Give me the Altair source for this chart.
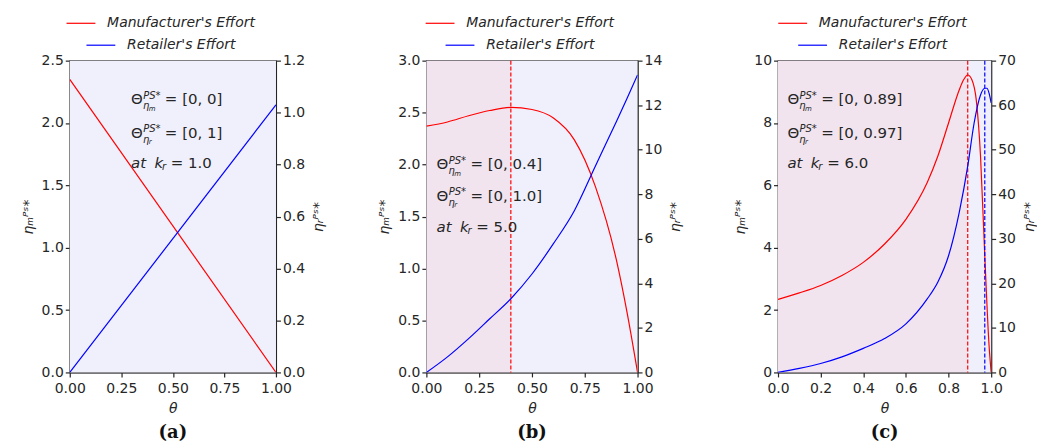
import altair as alt
import pandas as pd

SERIES = ["Manufacturer's Effort", "Retailer's Effort"]
RED = "#ff0000"
BLUE = "#0000ff"
PINK = "#f1e4ef"
LAV = "#f0f0fc"
INK = "#262626"
FONT = "DejaVu Sans"

# ---- panel (a) ----
a_theta_m = [0.0, 1.0]
a_m = [2.35, 0.0]
a_theta_r = [0.0, 1.0]
a_r = [0.0, 1.03]

# ---- panel (b) ----
b_theta_m = [0.0, 0.1, 0.2, 0.3, 0.4, 0.5, 0.6, 0.7, 0.8, 0.9, 0.95, 1.0]
b_m = [2.37, 2.41, 2.47, 2.52, 2.55, 2.53, 2.45, 2.24, 1.79, 1.08, 0.58, 0.0]
b_theta_r = [0.0, 0.1, 0.2, 0.3, 0.4, 0.5, 0.6, 0.7, 0.8, 0.9, 0.95, 1.0]
b_r = [0.0, 0.70, 1.52, 2.41, 3.31, 4.42, 5.76, 7.25, 9.26, 11.27, 12.3, 13.36]

# ---- panel (c) ----
c_theta_m = [0.0, 0.1, 0.2, 0.3, 0.4, 0.5, 0.6, 0.7, 0.75, 0.8, 0.85, 0.87, 0.89,
             0.91, 0.93, 0.95, 0.97, 0.99, 1.0]
c_m = [2.34, 2.55, 2.79, 3.11, 3.53, 4.12, 4.91, 6.09, 6.94, 8.0, 9.06, 9.38, 9.54,
       9.38, 8.74, 6.94, 3.74, 0.87, 0.0]
c_theta_r = [0.0, 0.1, 0.2, 0.3, 0.4, 0.5, 0.6, 0.7, 0.75, 0.8, 0.85, 0.89, 0.92,
             0.95, 0.97, 0.98, 0.99, 1.0]
c_r = [0.0, 0.9, 2.0, 3.5, 5.4, 7.6, 10.9, 16.5, 20.3, 26.2, 35.9, 46.3, 56.0,
       62.3, 63.8, 63.8, 62.7, 60.5]

# annotation texts
a_ann = ["= [0, 0]", "= [0, 1]", "= 1.0"]
b_ann = ["= [0, 0.4]", "= [0, 1.0]", "= 5.0"]
c_ann = ["= [0, 0.89]", "= [0, 0.97]", "= 6.0"]

H = 313
MAIN = 15
SUB = 10
SYM = 210          # legend stroke symbol size (line length = 2*sqrt(SYM))
HALF = SYM ** 0.5 / 2


def text_layer(df, text, dx=0, dy=0, size=MAIN, style="normal", field="t"):
    enc = dict(x=alt.X("theta:Q"), y=alt.Y("v:Q"))
    if text is None:
        enc["text"] = alt.Text(field + ":N")
    else:
        enc["text"] = alt.value(text)
    return alt.Chart(df).mark_text(align="left", baseline="middle", dx=dx, dy=dy,
                                   fontSize=size, fontStyle=style, font=FONT,
                                   color=INK).encode(**enc)


def panel(W, tm, vm, tr, vr, ydm, ytm, ydr, ytr, xticks, xfmt, lfmt, rfmt,
          regions, vlines, ann_x, ann_y, ann_txt, caption):
    xs = alt.Scale(domain=[0, 1], nice=False, zero=False)
    xa = alt.Axis(values=xticks, format=xfmt, title="θ", titleFontStyle="italic",
                  labelFlush=False, labelPadding=5, titlePadding=6)
    ysm = alt.Scale(domain=ydm, nice=False, zero=False)
    ysr = alt.Scale(domain=ydr, nice=False, zero=False)

    dm = pd.DataFrame({"theta": tm, "v": vm, "s": SERIES[0]})
    dr = pd.DataFrame({"theta": tr, "v": vr, "s": SERIES[1]})
    reg = pd.DataFrame(regions, columns=["theta", "theta2", "c"])

    bg = alt.Chart(reg).mark_rect().encode(
        x=alt.X("theta:Q", scale=xs, axis=xa), x2="theta2:Q",
        fill=alt.Fill("c:N", scale=None))

    red = alt.Chart(dm).mark_line(strokeWidth=1.2, interpolate="monotone", clip=True).encode(
        x=alt.X("theta:Q", scale=xs, axis=xa),
        y=alt.Y("v:Q", scale=ysm,
                axis=alt.Axis(orient="left", values=ytm, format=lfmt, title="ηₘᴾˢ*",
                              titlePadding=6)),
        color=alt.Color("s:N", scale=alt.Scale(domain=[SERIES[0]], range=[RED]),
                        legend=alt.Legend(orient="none", legendX=W / 2 - 107.5 + HALF,
                                          legendY=-45.5, title=None)))

    left_layers = [bg, red]
    for xv, col in vlines:
        left_layers.append(
            alt.Chart(pd.DataFrame({"theta": [xv]})).mark_rule(
                color=col, strokeDash=[4, 2], strokeWidth=1.2).encode(x="theta:Q"))

    d12 = pd.DataFrame({"theta": [ann_x, ann_x], "v": ann_y[:2],
                        "t": ann_txt[:2], "sub": ["m", "r"]})
    d3 = pd.DataFrame({"theta": [ann_x], "v": [ann_y[2]], "t": [ann_txt[2]]})
    left_layers += [
        text_layer(d12, "Θ"),
        text_layer(d12, "PS*", dx=12.2, dy=-3.5, size=SUB, style="italic"),
        text_layer(d12, "η", dx=12, dy=7, size=SUB, style="italic"),
        text_layer(d12, None, dx=17.8, dy=9.5, size=7, style="italic", field="sub"),
        text_layer(d12, None, dx=34),
        text_layer(d3, "at", style="italic"),
        text_layer(d3, "k", dx=23.5, style="italic"),
        text_layer(d3, "r", dx=31, dy=4, size=SUB, style="italic"),
        text_layer(d3, None, dx=40),
    ]
    left = alt.layer(*left_layers)

    blue = alt.Chart(dr).mark_line(strokeWidth=1.2, interpolate="monotone", clip=True).encode(
        x=alt.X("theta:Q", scale=xs, axis=xa),
        y=alt.Y("v:Q", scale=ysr,
                axis=alt.Axis(orient="right", values=ytr, format=rfmt, title="ηᵣᴾˢ*",
                              titleAngle=270, titleBaseline="top", titlePadding=7)),
        color=alt.Color("s:N", scale=alt.Scale(domain=[SERIES[1]], range=[BLUE]),
                        legend=alt.Legend(orient="none", legendX=W / 2 - 87.5 + HALF,
                                          legendY=-23.5, title=None)))

    return alt.layer(left, blue).resolve_scale(y="independent", color="independent").properties(
        width=W, height=H,
        title=alt.TitleParams(caption, orient="bottom", anchor="middle", font="DejaVu Serif",
                              fontSize=18, fontWeight="bold", color="#111", offset=8))


pa = panel(207, a_theta_m, a_m, a_theta_r, a_r,
           [0, 2.5], [0, 0.5, 1.0, 1.5, 2.0, 2.5], [0, 1.2], [0, 0.2, 0.4, 0.6, 0.8, 1.0, 1.2],
           [0, 0.25, 0.5, 0.75, 1.0], ".2f", ".1f", ".1f",
           [(0.0, 1.0, LAV)], [], 0.297, [2.19, 1.923, 1.677], a_ann, "(a)")
pb = panel(212, b_theta_m, b_m, b_theta_r, b_r,
           [0, 3.0], [0, 0.5, 1.0, 1.5, 2.0, 2.5, 3.0], [0, 14], [0, 2, 4, 6, 8, 10, 12, 14],
           [0, 0.25, 0.5, 0.75, 1.0], ".2f", ".1f", "d",
           [(0.0, 0.4, PINK), (0.4, 1.0, LAV)], [(0.4, RED)], 0.048, [2.005, 1.701, 1.397],
           b_ann, "(b)")
pc = panel(214, c_theta_m, c_m, c_theta_r, c_r,
           [0, 10], [0, 2, 4, 6, 8, 10], [0, 70], [0, 10, 20, 30, 40, 50, 60, 70],
           [0, 0.2, 0.4, 0.6, 0.8, 1.0], ".1f", "d", "d",
           [(0.0, 0.89, PINK), (0.89, 1.0, LAV)], [(0.89, RED), (0.97, BLUE)], 0.044,
           [8.76, 7.69, 6.71], c_ann, "(c)")

chart = alt.hconcat(pa, pb, pc, spacing=50).resolve_scale(
    x="independent", y="independent", color="independent"
).properties(
    padding={"left": 12, "top": 5, "right": 0, "bottom": 0}
).configure_view(
    stroke=INK, strokeWidth=1.2
).configure_axis(
    grid=False, labelFont=FONT, labelFontSize=14, labelColor=INK, tickColor=INK,
    domainColor=INK, domainWidth=1.2, tickWidth=1.2, tickSize=4.5, labelPadding=2,
    titleFont=FONT, titleFontSize=14, titleFontWeight="normal", titleColor=INK,
    titleFontStyle="italic", titlePadding=4
).configure_legend(
    symbolType="M-2,0H2", symbolSize=SYM, symbolStrokeWidth=1.2, labelFont=FONT,
    labelFontSize=14, labelFontStyle="italic", labelColor=INK,
    labelOffset=HALF + 11, padding=0, rowPadding=0
)

chart.save("out.html", embed_options={"renderer": "svg", "actions": False})
